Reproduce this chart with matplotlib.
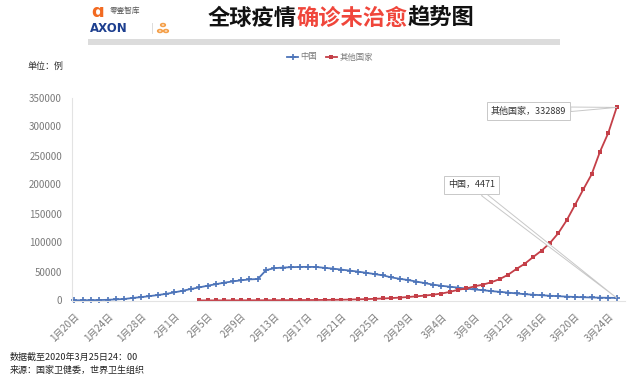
import datetime as dt
import matplotlib
matplotlib.use("Agg")
import matplotlib.pyplot as plt
from matplotlib.patches import Circle, Rectangle

plt.rcParams['font.family'] = ['Noto Sans CJK SC', 'DejaVu Sans']

# data: active (unrecovered) confirmed cases, daily from 2020-01-20 to 2020-03-25
start = dt.date(2020, 1, 20)
china = [260, 420, 540, 780, 1200, 1900, 2600, 4400, 5800, 7500, 9400, 11400,
         14000, 16800, 19900, 22600, 25600, 28200, 30800, 32900, 34800, 36400,
         37000, 52500, 55700, 56800, 57400, 57900, 58000, 57800, 56300, 55000,
         53300, 51600, 49800, 47700, 45600, 43300, 39900, 37400, 35300, 32700,
         30000, 27400, 25400, 23800, 22200, 20500, 19000, 17700, 16200, 14900,
         13600, 12200, 10900, 10000, 9100, 8200, 7400, 6700, 6100, 5600, 5200,
         4900, 4650, 4471]
others_start = 15  # 2月4日
others = [150, 170, 190, 220, 250, 290, 330, 380, 430, 490, 550, 620, 700, 780,
          880, 1000, 1150, 1350, 1650, 2000, 2400, 2900, 3500, 4200, 5000, 6000,
          7200, 8500, 10000, 12000, 14800, 18500, 20800, 24500, 27500, 31500,
          37000, 44500, 54500, 63500, 75000, 86000, 99000, 116000, 138000,
          164500, 191500, 217500, 256500, 289000, 332889]

days = list(range(len(china)))
days_other = [others_start + i for i in range(len(others))]
tick_idx = list(range(0, len(china), 4))
tick_labels = [f"{(start + dt.timedelta(d)).month}月{(start + dt.timedelta(d)).day}日" for d in tick_idx]
yticks = [0, 50000, 100000, 150000, 200000, 250000, 300000, 350000]

blue = '#4d74b9'
red = '#c43f48'
grey = '#7a7a7a'

fig = plt.figure(figsize=(6.4, 3.86), dpi=100)
W, H = 640, 386
ax = fig.add_axes([71.7 / W, 1 - 300.5 / H, (625 - 71.7) / W, 203 / H])

ax.plot(days, china, color=blue, lw=1.3, marker='+', ms=4, mew=1.2, clip_on=False, label='中国')
ax.plot(days_other, others, color=red, lw=1.3, marker='s', ms=3.2, mew=0, clip_on=False, label='其他国家')

ax.set_xlim(-0.3, 66)
ax.set_ylim(0, 350000)
ax.set_yticks(yticks)
ax.set_yticklabels([str(v) for v in yticks], fontsize=7, color=grey)
ax.set_xticks(tick_idx)
ax.set_xticklabels(tick_labels, fontsize=7, color=grey, rotation=45, ha='right', rotation_mode='anchor')
ax.tick_params(length=0)
ax.tick_params(axis='x', pad=8)
ax.tick_params(axis='y', pad=7)
for s in ['top', 'right']:
    ax.spines[s].set_visible(False)
for s in ['left', 'bottom']:
    ax.spines[s].set_color('#e3e3e3')
    ax.spines[s].set_linewidth(0.8)

# callouts
box = dict(boxstyle='square,pad=0.45', fc='white', ec='#c8c8c8', lw=0.7)
ax.annotate(f'其他国家，{others[-1]}', xy=(days_other[-1], others[-1]),
            xytext=(491 / W, 1 - 111 / H), textcoords='figure fraction',
            fontsize=6.5, color='#333333', va='center', bbox=box,
            arrowprops=dict(arrowstyle='wedge,tail_width=0.5', fc='white', ec='#c8c8c8', lw=0.7,
                            shrinkA=0, shrinkB=0))
ax.annotate(f'中国，{china[-1]}', xy=(days[-1], china[-1]),
            xytext=(448 / W, 1 - 185 / H), textcoords='figure fraction',
            fontsize=6.5, color='#333333', va='center', bbox=box,
            arrowprops=dict(arrowstyle='wedge,tail_width=0.5', fc='white', ec='#c8c8c8', lw=0.7,
                            shrinkA=0, shrinkB=0))

fig.legend(loc='center', bbox_to_anchor=(330 / W, 1 - 57 / H), ncol=2, frameon=False,
           fontsize=6, handlelength=1.3, handletextpad=0.3, columnspacing=1.0, labelcolor=grey)

fig.text(28 / W, 1 - 66 / H, '单位：例', fontsize=6.5, color='#333333', va='center')

# title
fs = 16
cw = fs * 100 / 72
x0 = 208
parts = [('全球疫情', '#111111'), ('确诊未治愈', '#f0463b'), ('趋势图', '#111111')]
for txt, col in parts:
    fig.text(x0 / W, 1 - 18 / H, txt, fontsize=fs, fontweight='bold', color=col, va='center', ha='left')
    x0 += cw * len(txt)
fig.add_artist(Rectangle((88 / W, 1 - 44.5 / H), (560 - 88) / W, 5 / H,
                         transform=fig.transFigure, color='#dcdcdc', lw=0))

# logo
fig.text(91 / W, 1 - 12 / H, 'ɑ', fontsize=13, fontweight='bold', color='#f26a21', va='center', family='DejaVu Sans')
fig.text(110 / W, 1 - 11 / H, '零壹智库', fontsize=5.5, color='#555555', va='center')
fig.text(90 / W, 1 - 29 / H, 'AXON', fontsize=8.5, fontweight='bold', color='#1d3f8f', va='center', family='DejaVu Sans')
fig.add_artist(Rectangle((152 / W, 1 - 34 / H), 0.8 / W, 11 / H, transform=fig.transFigure, color='#dddddd', lw=0))
for cx, cy in [(163, 25), (160, 31), (166, 31)]:
    fig.add_artist(Circle((cx / W, 1 - cy / H), 2.3 / W, transform=fig.transFigure,
                          fc='none', ec='#f5a04a', lw=1.2))

fig.text(10 / W, 1 - 357 / H, '数据截至2020年3月25日24：00', fontsize=6.5, color='#222222', va='center')
fig.text(10 / W, 1 - 370 / H, '来源：国家卫健委，世界卫生组织', fontsize=6.5, color='#222222', va='center')

fig.savefig('out.png', dpi=100)
